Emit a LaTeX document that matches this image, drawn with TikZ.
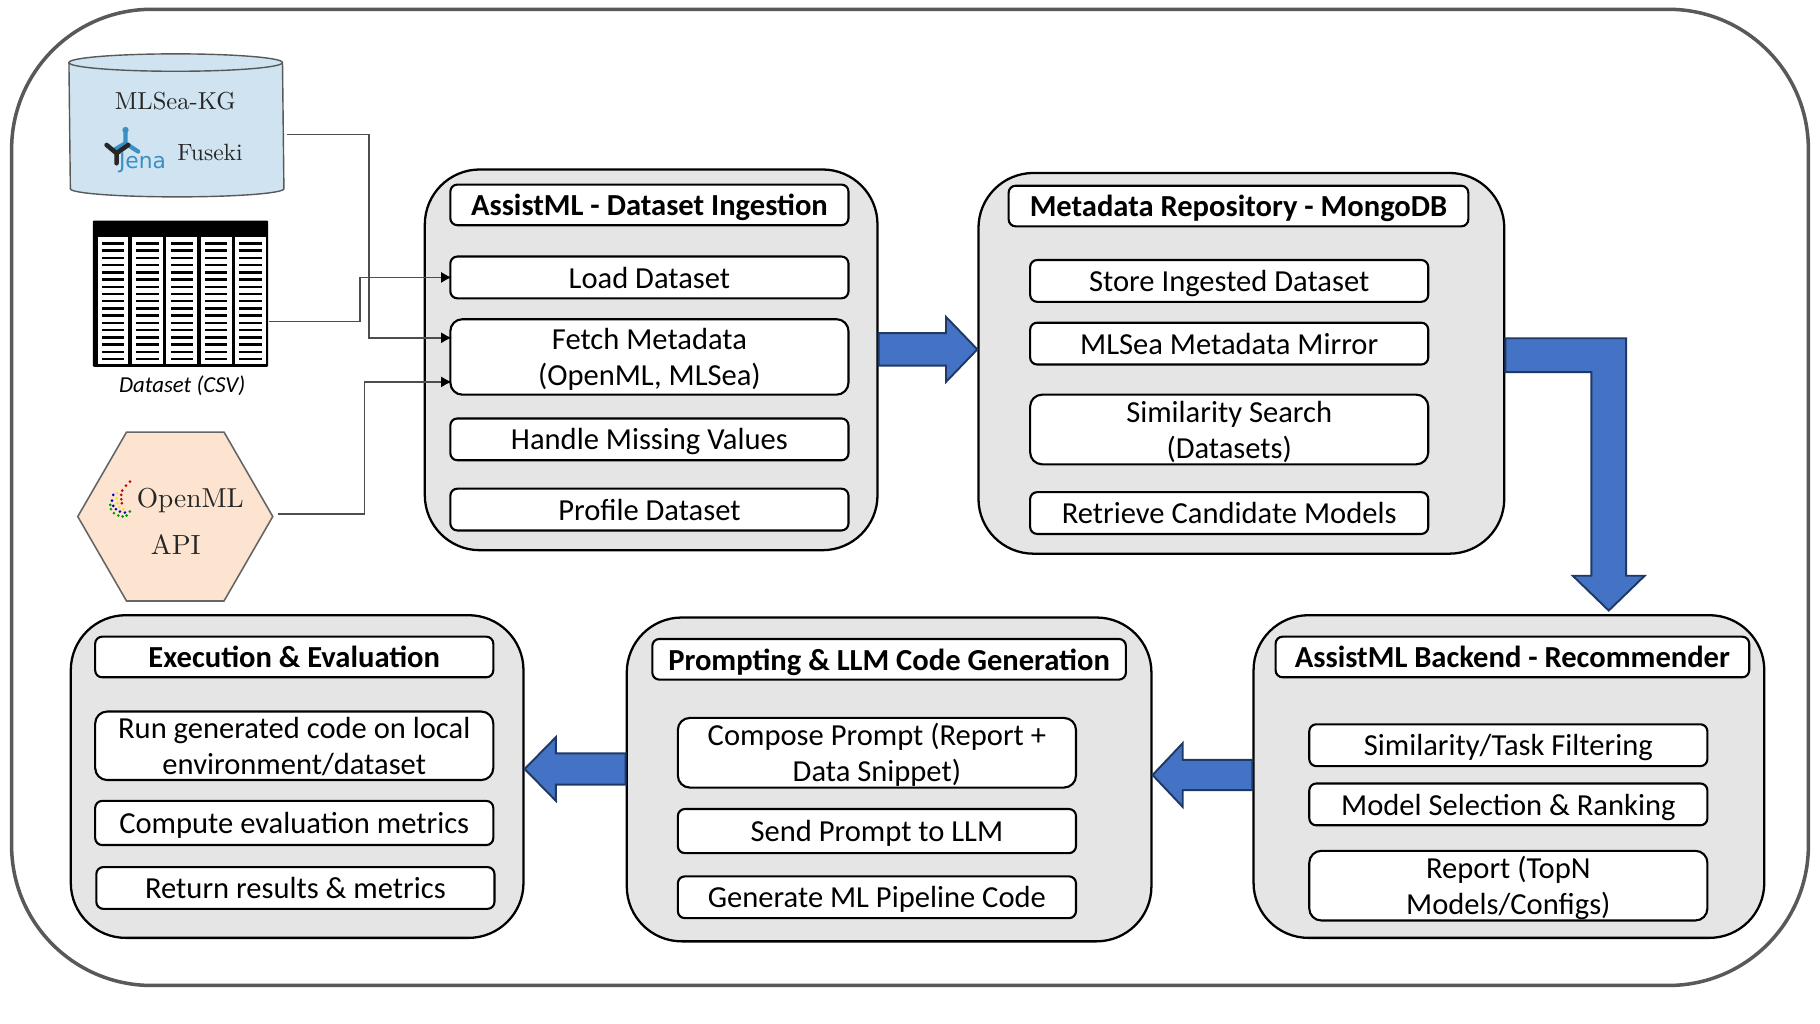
\documentclass[tikz,border=0pt]{standalone}
\usepackage{fontspec}
\setmainfont{Carlito}
\newfontfamily\lmfont[OpticalSize=10]{Latin Modern Roman}
\newfontfamily\logofont{DejaVu Sans}
\usepackage{tikz}
\usetikzlibrary{arrows.meta,calc,shapes.geometric}

\definecolor{groupgray}{HTML}{E5E5E5}
\definecolor{framegray}{HTML}{595959}
\definecolor{wiregray}{HTML}{4D4D4D}
\definecolor{kgblue}{HTML}{CFE3F0}
\definecolor{apipeach}{HTML}{FCE4D0}
\definecolor{flowblue}{HTML}{4472C4}
\definecolor{flowedge}{HTML}{1F3864}
\definecolor{jenablue}{HTML}{3A8FC7}

\def\U{0.011607cm}

\tikzset{
	bodyfont/.style={font=\fontsize{8.7}{10.2}\selectfont},
	groupbox/.style={draw, line width=0.65pt, fill=groupgray, rounded corners=0.55cm, inner sep=0pt},
	titlebox/.style={draw, line width=0.6pt, fill=white, rounded corners=0.07cm, inner sep=0pt, minimum height=35*\U, text depth=0pt, font=\fontsize{8.7}{10.2}\selectfont\bfseries},
	stepbox/.style={draw, line width=0.6pt, fill=white, rounded corners=0.07cm, inner sep=0pt, minimum width=343*\U, minimum height=36*\U, align=center, text depth=0pt, bodyfont},
	doublebox/.style={stepbox, rounded corners=0.12cm, minimum height=60*\U},
	wire/.style={wiregray, line width=0.45pt},
	wiretip/.style={wire, -{Latex[black,length=3pt,width=3.2pt]}},
	flowarrow/.style={draw=flowedge, fill=flowblue, line width=0.55pt, line join=miter}
}

% block arrow: start, tip, direction (1 or -1), half shaft, head length, half head
\newcommand{\SideArrow}[6]{
	\draw[flowarrow] ($(#1)+(0,-#4)$) -- ($(#2)+({-#3*#5},-#4)$) -- ($(#2)+({-#3*#5},-#6)$) -- (#2)
		-- ($(#2)+({-#3*#5},#6)$) -- ($(#2)+({-#3*#5},#4)$) -- ($(#1)+(0,#4)$) -- cycle;
}

\begin{document}
\begin{tikzpicture}[x=\U, y=-\U, >=stealth]
	\useasboundingbox (0,0) rectangle (1568,882.2);

	\node (frame) [draw=framegray, line width=1pt, rounded corners=1.4cm, minimum width=1548*\U, minimum height=841*\U, inner sep=0pt] at (784,428.5) {};

	% sources
	\node (kgstore) [minimum width=184*\U, minimum height=122*\U, inner sep=0pt] at (152,108) {};
	\filldraw[draw=framegray, line width=0.4pt, fill=kgblue] ($(kgstore.north west)+(0,7.5)$)
		arc[start angle=180, end angle=0, x radius=92*\U, y radius=7.5*\U]
		-- ($(kgstore.south east)+(0,-7)$)
		arc[start angle=0, end angle=-180, x radius=92*\U, y radius=7*\U] -- cycle;
	\draw[draw=framegray, line width=0.4pt] ($(kgstore.north west)+(0,7.5)$)
		arc[start angle=180, end angle=360, x radius=92*\U, y radius=7.5*\U];
	\node (kgname) [font=\lmfont\fontsize{7}{8}\selectfont, text=black!85] at (151,87) {MLSea-KG};
	\node (fusekiname) [font=\lmfont\fontsize{6.7}{8}\selectfont, text=black!85] at (181,131) {Fuseki};

	\begin{scope}[shift={(81.8,103.4)}, x=0.00333cm, y=-0.00333cm]
		\draw[jenablue, line width=1.2pt, line cap=round] (92,30) -- (92,70) (60,88) -- (92,70) -- (130,95);
		\fill[jenablue] (92,30) circle (0.9pt);
		\draw[black!85, line width=1.3pt, line cap=round] (35,75) -- (65,100) -- (100,75) (65,100) -- (65,130);
		\node[font=\logofont\fontsize{6.2}{7}\selectfont, text=jenablue, inner sep=0pt, anchor=base] at (143,145) {Jena};
	\end{scope}

	\node (csvtable) [fill=black, rounded corners=0.3pt, minimum width=151*\U, minimum height=126*\U, inner sep=0pt] at (155.5,253) {};
	\foreach \col in {0,...,4} {
		\fill[white] ({84+29.6*\col},204) rectangle ++(26.7,110);
		\foreach \row in {0,...,16} {
			\fill[black] ({87.7+29.6*\col},{208.6+6.23*\row}) rectangle ++(19.3,2.1);
		}
	}
	\node (csvname) [font=\fontsize{6.5}{8}\selectfont\itshape] at (157,332) {Dataset (CSV)};

	\node (openml) [regular polygon, regular polygon sides=6, draw=black!60, line width=0.45pt, fill=apipeach, minimum size=168*\U, inner sep=0pt] at (151,445) {};
	\node (openmlname) [font=\lmfont\fontsize{7.8}{9}\selectfont, text=black!85] at (164,431) {OpenML};
	\node (apiname) [font=\lmfont\fontsize{7.9}{9}\selectfont, text=black!85] at (151.5,469) {API};

	\begin{scope}[shift={(86.15,404.9)}, x=0.00333cm, y=-0.00333cm]
		\foreach \px/\py in {90/35,78/47,67/62,64/75,64/88,66/100} \fill[red!80!black] (\px,\py) circle (0.42pt);
		\foreach \px/\py in {52/70,50/85,52/100,58/112,70/118} \fill[yellow!85!orange] (\px,\py) circle (0.42pt);
		\foreach \px/\py in {40/75,36/92,40/108,48/118,60/125,75/128} \fill[blue!75!black] (\px,\py) circle (0.42pt);
		\foreach \px/\py in {31/105,33/118,42/130,55/137,68/140,80/137,90/125} \fill[green!60!black] (\px,\py) circle (0.42pt);
	\end{scope}

	% groups
	\node (ingest) [groupbox, minimum width=390*\U, minimum height=328*\U] at (561,310) {};
	\node (meta) [groupbox, minimum width=453*\U, minimum height=328*\U] at (1069.5,313) {};
	\node (backend) [groupbox, minimum width=440*\U, minimum height=278*\U] at (1300,669) {};
	\node (prompting) [groupbox, minimum width=452*\U, minimum height=279*\U] at (766,671.5) {};
	\node (execution) [groupbox, minimum width=390*\U, minimum height=278*\U] at (256,669) {};

	\node (ingesttitle) [titlebox, minimum width=343*\U] at (559.5,176.5) {AssistML - Dataset Ingestion};
	\node (loadstep) [stepbox] at (559.5,239) {Load Dataset};
	\node (fetchstep) [doublebox, minimum height=65*\U] at (559.5,307.5) {Fetch Metadata\\(OpenML, MLSea)};
	\node (missingstep) [stepbox] at (559.5,378.5) {Handle Missing Values};
	\node (profilestep) [stepbox] at (559.5,439) {Profile Dataset};

	\node (metatitle) [titlebox, minimum width=396*\U] at (1067,177.5) {Metadata Repository - MongoDB};
	\node (storestep) [stepbox] at (1059,242) {Store Ingested Dataset};
	\node (mirrorstep) [stepbox] at (1059,296) {MLSea Metadata Mirror};
	\node (searchstep) [doublebox] at (1059,370) {Similarity Search\\(Datasets)};
	\node (retrievestep) [stepbox] at (1059,442) {Retrieve Candidate Models};

	\node (backendtitle) [titlebox, minimum width=408*\U] at (1303,566) {AssistML Backend - Recommender};
	\node (filterstep) [stepbox] at (1299.5,642) {Similarity/Task Filtering};
	\node (rankstep) [stepbox] at (1299.5,693) {Model Selection \& Ranking};
	\node (reportstep) [doublebox] at (1299.5,763) {Report (TopN\\Models/Configs)};

	\node (prompttitle) [titlebox, minimum width=408*\U] at (766,568) {Prompting \& LLM Code Generation};
	\node (composestep) [doublebox] at (755.5,648.5) {Compose Prompt (Report +\\Data Snippet)};
	\node (sendstep) [stepbox, minimum height=38*\U] at (755.5,716) {Send Prompt to LLM};
	\node (generatestep) [stepbox] at (755.5,773) {Generate ML Pipeline Code};

	\node (exectitle) [titlebox, minimum width=343*\U] at (253.5,566) {Execution \& Evaluation};
	\node (runstep) [doublebox, minimum height=59*\U] at (253.5,642.5) {Run generated code on local\\environment/dataset};
	\node (metricstep) [stepbox, minimum height=38*\U] at (253.5,709) {Compute evaluation metrics};
	\node (returnstep) [stepbox] at (254.5,765) {Return results \& metrics};

	% thin connectors
	\coordinate (kgbus) at (318,116);
	\coordinate (csvbus) at (310,239);
	\coordinate (apibus) at (314,329);
	\draw[wire, wiretip, shorten <=3*\U] ($(kgstore.east)+(0,8)$) -- (kgbus) |- ($(fetchstep.west)+(2,-16.5)$);
	\draw[wire, wiretip] ($(csvtable.east)+(0,24)$) -| (csvbus) -- ($(loadstep.west)+(2,0)$);
	\draw[wire, wiretip, shorten <=4*\U] (openml.east |- 0,443) -| (apibus) -- ($(fetchstep.west)+(2,21.5)$);

	% block arrows
	\coordinate (flowa) at (ingest.east |- 0,301);
	\coordinate (flowatip) at (meta.west |- 0,301);
	\SideArrow{flowa}{flowatip}{1}{14}{27}{28}
	\coordinate (flowb) at (prompting.west |- 0,662.5);
	\coordinate (flowbtip) at (execution.east |- 0,662.5);
	\SideArrow{flowb}{flowbtip}{-1}{13.5}{27}{27.5}
	\coordinate (flowc) at (backend.west |- 0,667.7);
	\coordinate (flowctip) at (prompting.east |- 0,667.7);
	\SideArrow{flowc}{flowctip}{-1}{13}{26}{27.5}

	\coordinate (flowd) at (meta.east |- 0,306);
	\coordinate (flowdtip) at ($(backend.north -| 1386,0)+(0,-3)$);
	\draw[flowarrow] ($(flowd)+(0,-14.6)$) -| ($(flowdtip)+(15,-30)$) -- ($(flowdtip)+(31,-30)$) -- (flowdtip)
		-- ($(flowdtip)+(-31,-30)$) -- ($(flowdtip)+(-15,-30)$) |- ($(flowd)+(0,14.6)$) -- cycle;
\end{tikzpicture}
\end{document}
